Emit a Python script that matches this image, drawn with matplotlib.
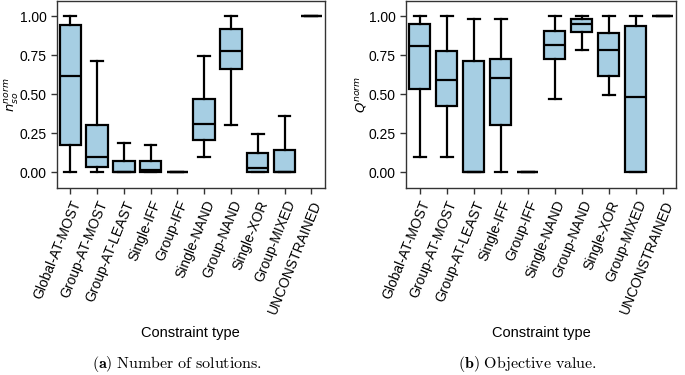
import matplotlib
matplotlib.use("Agg")
import matplotlib.pyplot as plt

plt.rcParams['font.family'] = ['Liberation Sans', 'DejaVu Sans']

categories = ["Global-AT-MOST", "Group-AT-MOST", "Group-AT-LEAST", "Single-IFF",
              "Group-IFF", "Single-NAND", "Group-NAND", "Single-XOR",
              "Group-MIXED", "UNCONSTRAINED"]

# whisker low, q1, median, q3, whisker high
nso_low = [0.0, 0.0, 0.0, 0.0, 0.0, 0.097, 0.305, 0.0, 0.0, 1.0]
nso_q1 = [0.174, 0.036, 0.0, 0.0, 0.0, 0.21, 0.663, 0.0, 0.0, 1.0]
nso_med = [0.62, 0.095, 0.0, 0.017, 0.0, 0.307, 0.775, 0.03, 0.0, 1.0]
nso_q3 = [0.947, 0.305, 0.074, 0.07, 0.0, 0.468, 0.92, 0.123, 0.144, 1.0]
nso_high = [1.0, 0.712, 0.186, 0.174, 0.0, 0.748, 1.0, 0.248, 0.36, 1.0]

q_low = [0.097, 0.097, 0.0, 0.0, 0.0, 0.47, 0.782, 0.498, 0.0, 1.0]
q_q1 = [0.534, 0.422, 0.0, 0.303, 0.0, 0.727, 0.9, 0.617, 0.0, 1.0]
q_med = [0.811, 0.589, 0.0, 0.602, 0.0, 0.818, 0.953, 0.784, 0.483, 1.0]
q_q3 = [0.949, 0.778, 0.716, 0.727, 0.0, 0.905, 0.981, 0.892, 0.936, 1.0]
q_high = [1.0, 1.0, 0.985, 0.985, 0.0, 1.0, 1.0, 1.0, 1.0, 1.0]

ylabels = [r"$n_{so}^{norm}$", r"$Q^{norm}$"]
captions = [r"$\mathbf{(a)}\ \mathrm{Number\ of\ solutions.}$",
            r"$\mathbf{(b)}\ \mathrm{Objective\ value.}$"]

BOX = "#a6cee3"


def make_stats(low, q1, med, q3, high):
    out = []
    for i in range(len(low)):
        out.append(dict(whislo=low[i], q1=q1[i], med=med[i], q3=q3[i],
                        whishi=high[i], fliers=[]))
    return out


fig = plt.figure(figsize=(6.85, 3.75), dpi=100)
ax1 = fig.add_axes([0.083, 0.499, 0.391, 0.499])
ax2 = fig.add_axes([0.593, 0.499, 0.394, 0.499])

data = [make_stats(nso_low, nso_q1, nso_med, nso_q3, nso_high),
        make_stats(q_low, q_q1, q_med, q_q3, q_high)]

for ax, stats, yl, cap in zip([ax1, ax2], data, ylabels, captions):
    ax.bxp(stats, positions=range(len(categories)), widths=0.8,
           patch_artist=True, showfliers=False,
           boxprops=dict(facecolor=BOX, edgecolor="black", linewidth=1.6),
           medianprops=dict(color="black", linewidth=1.6),
           whiskerprops=dict(color="black", linewidth=1.6),
           capprops=dict(color="black", linewidth=1.6),
           capwidths=0.44)
    ax.set_xlim(-0.5, len(categories) - 0.5)
    ax.set_ylim(-0.1, 1.1)
    ax.set_yticks([0, 0.25, 0.5, 0.75, 1.0])
    ax.set_yticklabels(["0.00", "0.25", "0.50", "0.75", "1.00"], fontsize=10)
    ax.set_xticks(range(len(categories)))
    ax.set_xticklabels(categories, rotation=68, ha="right",
                       rotation_mode="anchor", fontsize=10)
    ax.tick_params(direction="out", length=4, width=1, color="#333333")
    for s in ax.spines.values():
        s.set_color("#333333")
        s.set_linewidth(1.0)
    ax.set_ylabel(yl, fontsize=9.5)
    ax.yaxis.set_label_coords(-0.138, 0.5)
    ax.set_xlabel("Constraint type", fontsize=10.5)
    ax.xaxis.set_label_coords(0.5, -0.74)
    pos = ax.get_position()
    fig.text((pos.x0 + pos.x1) / 2 - 0.02, 0.03, cap, ha="center",
             va="center", fontsize=11.5, math_fontfamily="cm")

fig.savefig("out.png", dpi=100)
